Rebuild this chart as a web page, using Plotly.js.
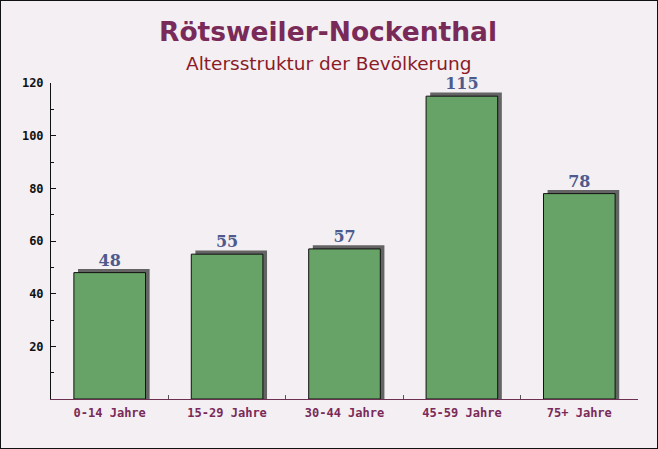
<!DOCTYPE html>
<html>
<head>
<meta charset="utf-8">
<script src="https://cdn.plot.ly/plotly-3.0.1.min.js"></script>
<style>
html,body{margin:0;padding:0;background:#fff;}
#chart{width:656px;height:447px;border:1px solid #111;}
</style>
</head>
<body>
<div id="chart"></div>
<script>
const categories = ["0-14 Jahre", "15-29 Jahre", "30-44 Jahre", "45-59 Jahre", "75+ Jahre"];
const values = [48, 55, 57, 115, 78];
const yTickVals = [20, 40, 60, 80, 100, 120];
const titleText = "Rötsweiler-Nockenthal";
const subtitleText = "Altersstruktur der Bevölkerung";

const BAR_W = 0.61;
const SHADOW_DX = 0.035;
const SHADOW_DY = 1.4;

const shadow = {
  type: "bar",
  x: categories,
  y: values.map(v => v + SHADOW_DY),
  width: BAR_W,
  offset: -BAR_W / 2 + SHADOW_DX,
  marker: {color: "rgba(75,75,75,0.85)", line: {width: 0}},
  hoverinfo: "skip",
  showlegend: false
};
const bars = {
  type: "bar",
  x: categories,
  y: values,
  width: BAR_W,
  offset: -BAR_W / 2,
  marker: {color: "#67a267", line: {color: "#111", width: 1}},
  text: values.map(String),
  textposition: "outside",
  cliponaxis: false,
  textfont: {family: "DejaVu Serif", size: 16, color: "#4e5a8c", weight: "bold"},
  showlegend: false
};

const layout = {
  width: 656, height: 447,
  margin: {l: 50, r: 19, t: 82, b: 49},
  paper_bgcolor: "#f3eff2",
  plot_bgcolor: "#f3eff2",
  barmode: "overlay",
  font: {family: "DejaVu Sans Mono"},
  xaxis: {
    type: "category",
    showline: true, linecolor: "#6e3050", linewidth: 1,
    ticks: "inside", tickson: "boundaries", ticklen: 4, tickcolor: "#555",
    tickfont: {family: "DejaVu Sans Mono", size: 12, color: "#7a2a58", weight: "bold"},
    ticklabelstandoff: 3,
    showgrid: false, zeroline: false
  },
  yaxis: {
    range: [0, 120],
    showline: true, linecolor: "#111", linewidth: 1,
    ticks: "inside", ticklen: 5, tickcolor: "#111",
    tickvals: yTickVals,
    tickfont: {family: "DejaVu Sans Mono", size: 12, color: "#111", weight: "bold"},
    ticklabelstandoff: 4,
    minor: {dtick: 10, ticks: "inside", ticklen: 3, tickcolor: "#111", showgrid: false},
    showgrid: false, zeroline: false
  },
  annotations: [
    {text: titleText, xref: "paper", yref: "paper", x: 0.472, y: 1, yanchor: "middle", yshift: 52, showarrow: false,
     font: {family: "DejaVu Sans", size: 26.5, color: "#7a2a58", weight: "bold"}},
    {text: subtitleText, xref: "paper", yref: "paper", x: 0.472, y: 1, yanchor: "middle", yshift: 20, showarrow: false,
     font: {family: "DejaVu Sans", size: 18.5, color: "#8b1a26"}}
  ]
};

Plotly.newPlot("chart", [shadow, bars], layout, {displayModeBar: false, staticPlot: true});
</script>
</body>
</html>
